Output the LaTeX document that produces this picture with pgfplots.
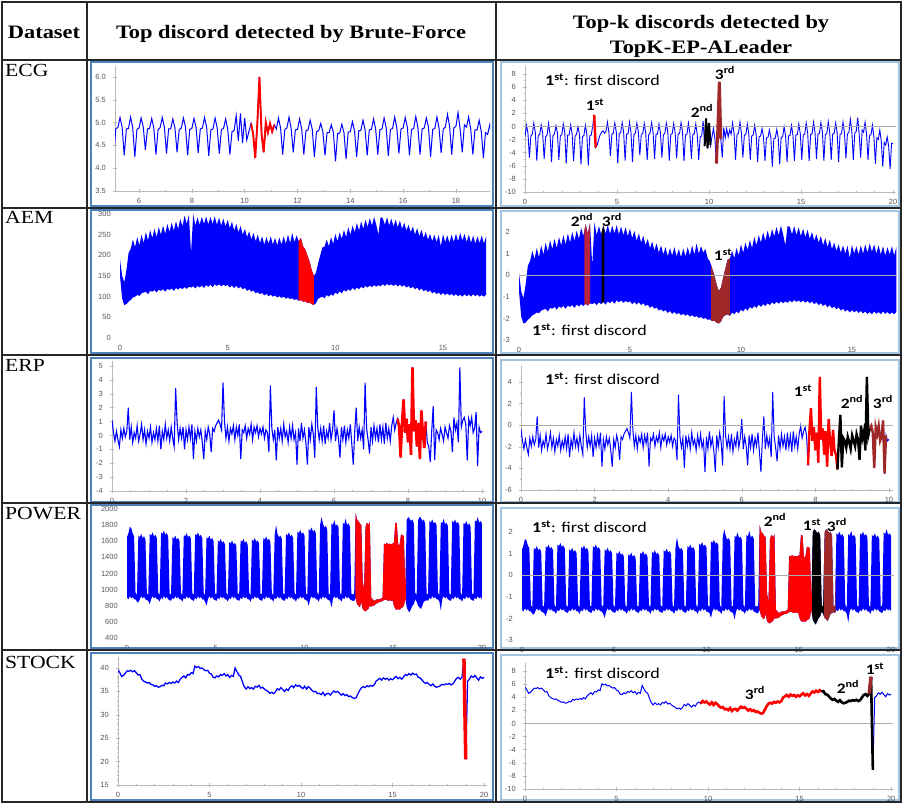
\documentclass[border=0pt]{standalone}
\usepackage{fontspec}
\setmainfont{Liberation Serif}
\setsansfont{Liberation Sans}
\newfontfamily\calib{Carlito}
\usepackage{graphicx}
\usepackage{pgfplots}
\pgfplotsset{compat=1.18}
\usepackage{pgfplotstable}
\usepgfplotslibrary{fillbetween}
\tikzset{fill between/on layer=main}

\definecolor{sigblue}{RGB}{0,0,255}
\definecolor{frameA}{RGB}{79,129,189}
\definecolor{frameB}{RGB}{160,196,225}
\definecolor{disbrown}{RGB}{160,40,40}
\definecolor{disrose}{RGB}{185,35,60}
\definecolor{tickgray}{RGB}{85,85,85}

\newcommand\tickfont{\fontsize{7.5}{8}\selectfont\sffamily}
\newcommand\hdr[1]{{\fontsize{19}{22}\selectfont\bfseries\scalebox{1.18}[1]{#1}}}
\newcommand\rowlab[1]{{\fontsize{18.5}{20}\selectfont\scalebox{1.17}[1]{#1}}}
\newcommand\firstd{{\calib\fontsize{15}{17}\selectfont\scalebox{1.2}[1]{\textbf{1\textsuperscript{st}}: first discord}}}
\newcommand\ordl[2]{{\calib\fontsize{14.5}{16}\selectfont\bfseries\scalebox{1.2}[1]{#1\textsuperscript{#2}}}}

\pgfplotsset{
 sig/.style={
  scale only axis, anchor=south west, axis lines=left,
  axis line style={-, draw=gray!55, line width=0.6pt},
  tick style={draw=gray!55, line width=0.5pt},
  major tick length=3.5pt, minor tick length=2pt, tick align=center,
  ticklabel style={font=\tickfont, text=tickgray},
  xticklabel style={yshift=-2pt},
  yticklabel style={xshift=-4pt},
  /pgf/number format/assume math mode=true,
  /pgf/number format/1000 sep={},
  clip=true,
 },
 zl/.style={gray!65, line width=0.5pt, forget plot},
}

% ---------------- ECG (one value every 0.08) ----------------
\pgfplotstableread[row sep=\\]{y\\
4.80\\5.05\\4.88\\4.35\\4.82\\
4.86\\5.10\\4.90\\4.28\\4.84\\
4.85\\5.06\\4.88\\4.32\\4.80\\
4.84\\5.09\\4.86\\4.25\\4.83\\
4.86\\5.04\\4.89\\4.30\\4.82\\
4.85\\5.08\\4.90\\4.22\\4.84\\
4.84\\5.06\\4.87\\4.27\\4.81\\
4.86\\5.02\\4.85\\4.20\\4.80\\
4.83\\5.05\\4.86\\4.18\\4.82\\
4.84\\5.04\\5.28\\4.57\\4.62\\
4.74\\4.84\\4.90\\4.93\\4.88\\
4.92\\5.12\\4.90\\4.38\\4.86\\
4.88\\5.10\\4.91\\4.22\\4.87\\
4.89\\5.11\\4.90\\4.28\\4.86\\
4.87\\5.12\\4.89\\4.25\\4.85\\
4.88\\5.10\\4.90\\4.40\\4.86\\
4.87\\5.09\\4.88\\4.30\\4.84\\
4.89\\5.11\\4.90\\4.32\\4.86\\
4.86\\5.08\\4.88\\4.35\\4.84\\
4.88\\5.10\\4.90\\4.28\\4.85\\
4.87\\5.09\\4.89\\4.33\\4.86\\
4.88\\5.11\\4.90\\4.27\\4.84\\
4.86\\5.10\\4.88\\4.32\\4.85\\
4.87\\5.08\\4.85\\4.30\\4.80\\
4.82\\5.15\\4.60\\5.20\\4.55\\
5.10\\4.62\\4.80\\4.98\\4.76\\
4.22\\4.98\\6.00\\4.75\\4.35\\
5.00\\4.78\\4.98\\4.80\\4.95\\
4.86\\5.10\\4.88\\4.30\\4.85\\
4.88\\5.12\\4.87\\4.35\\4.84\\
4.85\\5.08\\4.86\\4.30\\4.82\\
4.84\\5.05\\4.85\\4.25\\4.80\\
4.82\\4.98\\4.80\\4.28\\4.78\\
4.78\\4.95\\4.78\\4.15\\4.76\\
4.77\\4.96\\4.78\\4.20\\4.79\\
4.80\\5.02\\4.82\\4.25\\4.82\\
4.83\\5.05\\4.84\\4.28\\4.84\\
4.85\\5.08\\4.86\\4.30\\4.84\\
4.86\\5.10\\4.88\\4.27\\4.85\\
4.87\\5.12\\4.89\\4.32\\4.86\\
4.88\\5.11\\4.90\\4.28\\4.85\\
4.87\\5.13\\4.89\\4.30\\4.86\\
4.88\\5.10\\4.90\\4.25\\4.85\\
4.87\\5.12\\4.88\\4.33\\4.86\\
4.90\\5.18\\4.92\\4.30\\4.88\\
4.92\\5.22\\4.85\\4.35\\4.95\\
4.90\\5.12\\4.86\\4.30\\4.84\\
4.84\\5.05\\4.80\\4.22\\4.78\\
4.74\\4.95\\4.70\\4.15\\4.68\\
4.62\\4.80\\4.60\\4.10\\4.66\\
4.65\\
}\ecg

% ---------------- AEM (band, one row every 0.1) ----------------
\pgfplotstableread[row sep=\\]{lo hi\\
150 190\\95 150\\80 135\\82 165\\88 206\\92 216\\98 238\\100 220\\104 244\\102 224\\
108 250\\110 230\\112 256\\106 236\\114 261\\112 242\\116 264\\110 244\\117 268\\114 250\\
118 272\\112 252\\119 276\\116 256\\120 279\\114 260\\121 282\\117 264\\122 288\\118 270\\
123 296\\119 276\\124 298\\122 205\\125 300\\120 272\\126 292\\122 274\\127 293\\121 276\\
128 294\\124 275\\129 293\\123 276\\130 294\\126 274\\130 291\\125 272\\129 289\\126 270\\
128 286\\122 266\\127 281\\121 260\\126 276\\120 256\\124 271\\118 250\\121 264\\114 244\\
118 258\\112 239\\115 254\\108 234\\111 250\\106 230\\109 246\\103 226\\107 244\\101 228\\
105 246\\100 226\\103 242\\98 224\\101 243\\97 226\\100 246\\95 228\\98 250\\94 230\\
96 254\\92 232\\94 248\\90 234\\92 242\\88 222\\89 215\\85 200\\86 185\\82 165\\
80 150\\84 158\\95 180\\98 200\\100 219\\96 221\\104 238\\100 222\\106 244\\102 228\\
110 252\\106 234\\113 256\\108 240\\116 261\\112 244\\118 268\\114 250\\121 272\\116 256\\
122 278\\118 260\\124 282\\120 264\\126 286\\122 269\\127 290\\123 272\\128 293\\124 274\\
128 250\\125 292\\130 290\\126 274\\131 292\\127 272\\130 289\\126 270\\130 286\\125 268\\
129 284\\124 264\\128 279\\122 260\\126 274\\120 256\\124 270\\118 250\\122 266\\115 246\\
120 262\\113 242\\117 256\\111 238\\115 252\\108 234\\112 250\\106 232\\110 249\\104 222\\
109 251\\104 232\\108 248\\103 230\\107 250\\102 232\\106 252\\101 234\\105 254\\100 236\\
106 252\\101 232\\105 250\\100 230\\106 248\\101 228\\105 246\\100 230\\104 248\\100 228\\
105 246\\
}\aem

% ---------------- ERP (one value every 0.04) ----------------
\pgfplotstableread[row sep=\\]{y\\
1.1\\0.2\\-0.4\\0.3\\-0.3\\-0.8\\0.4\\-0.2\\0.5\\-0.1\\
0.3\\2.0\\-0.3\\0.6\\-0.5\\0.2\\-0.2\\0.7\\-0.4\\0.1\\
0.8\\-0.3\\0.4\\-0.6\\0.3\\-0.2\\0.6\\-0.5\\0.2\\-0.3\\
0.5\\-0.4\\0.7\\-1.0\\0.3\\-0.3\\0.8\\-0.2\\0.4\\-0.4\\
0.6\\-0.2\\-0.8\\3.4\\0.9\\-0.3\\0.5\\-0.2\\0.6\\-1.0\\
0.4\\-0.3\\0.6\\-0.2\\0.8\\-1.7\\0.3\\-0.4\\0.5\\-0.1\\
0.4\\-0.5\\-1.7\\0.3\\-0.3\\0.6\\0.1\\-1.2\\0.5\\0.3\\
0.7\\0.9\\1.1\\0.8\\0.4\\3.8\\1.0\\-0.2\\0.6\\-0.4\\
0.5\\0.1\\0.7\\-0.3\\0.6\\0.0\\0.8\\-1.7\\0.4\\0.2\\
0.7\\-0.2\\0.5\\0.1\\0.8\\-0.3\\0.6\\0.2\\0.7\\-0.1\\
0.5\\0.1\\0.6\\-0.2\\0.4\\0.2\\-1.2\\3.6\\0.5\\-0.3\\
0.4\\-1.8\\0.6\\-0.2\\0.5\\-0.4\\0.8\\-0.1\\0.3\\-0.5\\
0.6\\-0.2\\0.7\\-0.3\\0.2\\-2.1\\0.5\\-0.4\\0.9\\-0.2\\
0.4\\-0.5\\-2.1\\0.6\\-0.3\\0.8\\0.1\\-1.6\\3.5\\0.6\\
-0.3\\0.5\\-0.4\\0.7\\-0.6\\0.3\\-0.2\\0.9\\-0.3\\0.4\\
1.8\\-0.4\\0.5\\-0.2\\-1.6\\0.6\\-0.3\\0.7\\-0.5\\0.4\\
-0.2\\0.8\\-0.6\\-2.1\\0.3\\2.0\\-0.4\\0.6\\-0.2\\0.4\\
-1.0\\3.8\\0.5\\-0.3\\-1.3\\0.6\\-0.4\\0.7\\-0.2\\0.5\\
-0.5\\0.8\\-0.3\\0.6\\-0.6\\0.9\\-0.2\\0.5\\-0.4\\0.7\\
1.3\\0.4\\0.9\\1.2\\0.6\\-1.6\\1.0\\2.6\\0.2\\1.2\\
-0.5\\0.8\\-1.4\\4.9\\0.3\\1.1\\-0.8\\0.9\\-1.7\\1.8\\
0.2\\-0.9\\1.0\\-0.5\\-0.8\\-1.9\\0.3\\2.1\\-1.75\\0.4\\
0.2\\-0.3\\0.5\\0.1\\-0.4\\0.6\\0.2\\-0.2\\0.7\\0.3\\
-1.2\\1.3\\0.4\\0.9\\-0.5\\4.9\\0.6\\1.1\\1.3\\0.8\\
-1.8\\1.2\\0.7\\1.3\\0.2\\0.5\\1.7\\-2.2\\0.6\\0.2\\
0.3\\
}\erp

% ---------------- POWER (band, one row every 0.08) ----------------
\pgfplotstableread[row sep=\\]{lo hi\\
900 1650\\880 1700\\920 1780\\890 1760\\910 1700\\880 1660\\880 960\\850 930\\
840 1670\\880 1650\\920 1690\\890 1640\\910 1660\\880 1620\\870 950\\860 940\\
820 1690\\880 1670\\920 1710\\890 1660\\910 1680\\880 1640\\880 960\\850 930\\
900 1710\\880 1690\\920 1730\\890 1680\\910 1700\\880 1660\\870 950\\860 940\\
900 1650\\880 1630\\920 1670\\890 1620\\910 1640\\880 1600\\880 960\\850 930\\
900 1680\\880 1660\\920 1700\\890 1650\\910 1670\\880 1630\\870 950\\860 940\\
900 1690\\880 1670\\920 1710\\890 1660\\910 1680\\880 1640\\880 960\\850 930\\
800 1650\\880 1630\\920 1670\\890 1620\\910 1640\\880 1600\\870 950\\860 940\\
900 1610\\880 1590\\920 1630\\890 1580\\910 1600\\880 1560\\880 960\\850 930\\
900 1590\\880 1570\\920 1610\\890 1560\\910 1580\\880 1540\\870 950\\860 940\\
900 1610\\880 1590\\920 1630\\890 1580\\910 1600\\880 1560\\880 960\\850 930\\
900 1620\\880 1600\\920 1640\\890 1590\\910 1610\\880 1570\\870 950\\860 940\\
900 1640\\880 1620\\920 1660\\890 1610\\910 1630\\880 1590\\880 960\\850 930\\
900 1680\\880 1800\\920 1690\\890 1650\\910 1670\\880 1630\\870 950\\860 940\\
900 1690\\880 1670\\920 1710\\890 1660\\910 1680\\880 1640\\880 960\\850 930\\
900 1720\\880 1700\\920 1740\\890 1690\\910 1710\\880 1670\\870 950\\860 940\\
800 1750\\880 1730\\920 1770\\890 1720\\910 1740\\880 1700\\880 960\\850 930\\
900 1800\\880 1900\\920 1820\\890 1770\\910 1790\\880 1750\\870 950\\860 940\\
780 1820\\880 1800\\920 1860\\890 1790\\910 1810\\880 1770\\880 960\\850 930\\
900 1830\\880 1810\\920 1880\\890 1800\\910 1820\\880 1780\\870 950\\860 940\\
860 950\\
900 1950\\820 1870\\800 1850\\780 1820\\850 1800\\760 1100\\740 1000\\730 1780\\750 1830\\760 1800\\
800 1840\\790 900\\800 880\\800 860\\820 870\\830 880\\840 880\\850 880\\850 890\\860 900\\
870 1570\\880 1560\\870 1580\\860 1560\\870 1570\\860 1560\\870 1570\\800 1580\\760 1830\\750 1820\\
760 1550\\750 1560\\770 1680\\780 1680\\800 1660\\900 1000\\
780 1860\\740 1900\\720 1880\\760 1850\\800 1870\\820 1820\\880 960\\850 930\\
800 1860\\780 1900\\760 1890\\800 1850\\850 1870\\860 1820\\870 950\\860 940\\
900 1850\\880 1830\\920 1870\\890 1820\\910 1840\\880 1800\\880 960\\850 930\\
740 1840\\880 1820\\920 1880\\890 1810\\910 1830\\880 1790\\870 950\\860 940\\
900 1850\\880 1830\\920 1870\\890 1820\\910 1840\\880 1800\\880 960\\850 930\\
900 1830\\880 1810\\920 1850\\890 1800\\910 1820\\880 1780\\870 950\\860 940\\
900 1860\\880 1840\\920 1900\\890 1830\\910 1850\\880 1820\\
}\power

% ---------------- STOCK (one value every 0.1) ----------------
\pgfplotstableread[row sep=\\]{y\\
39.6\\39.0\\38.2\\38.4\\38.9\\39.4\\39.3\\39.5\\39.2\\39.4\\
39.0\\38.5\\38.6\\37.6\\37.2\\37.0\\36.8\\36.9\\36.5\\36.4\\
36.1\\36.2\\35.9\\36.0\\36.3\\36.2\\36.8\\36.6\\36.9\\36.7\\
37.0\\36.8\\37.2\\36.9\\37.6\\38.0\\38.3\\37.9\\38.6\\38.5\\
39.0\\38.8\\40.4\\40.1\\40.3\\39.9\\40.0\\39.6\\39.4\\39.5\\
38.9\\38.7\\38.0\\37.9\\38.3\\38.1\\38.6\\38.4\\38.8\\38.3\\
38.6\\38.0\\38.4\\38.2\\40.0\\39.2\\38.5\\38.2\\37.0\\36.0\\
35.5\\36.0\\35.6\\35.8\\35.5\\36.1\\35.9\\36.3\\35.7\\35.9\\
35.5\\35.2\\35.0\\34.6\\34.8\\34.5\\34.9\\35.6\\35.3\\35.8\\
35.4\\35.0\\35.5\\35.2\\35.9\\36.2\\35.8\\36.4\\36.1\\36.3\\
35.9\\35.6\\36.1\\35.5\\36.0\\35.7\\35.2\\34.9\\35.0\\34.5\\
34.6\\34.3\\34.8\\34.1\\34.5\\34.6\\34.2\\34.7\\35.1\\34.8\\
35.0\\34.6\\34.2\\34.5\\34.1\\34.3\\33.9\\34.0\\33.7\\33.5\\
33.6\\34.4\\35.2\\35.8\\36.0\\35.8\\36.2\\36.0\\36.3\\36.1\\
36.4\\37.2\\37.5\\37.8\\37.4\\37.9\\37.6\\37.8\\37.4\\37.7\\
37.5\\37.9\\38.2\\37.7\\38.0\\37.6\\38.1\\38.6\\38.4\\38.8\\
38.5\\38.9\\38.6\\38.7\\38.0\\37.9\\37.5\\37.0\\36.7\\36.9\\
36.5\\36.2\\36.6\\36.1\\35.9\\36.0\\36.2\\36.5\\36.4\\36.6\\
36.5\\36.7\\36.4\\36.6\\37.2\\37.8\\38.0\\37.6\\38.1\\42.0\\
20.5\\37.2\\37.6\\38.3\\38.0\\38.4\\37.9\\37.4\\38.1\\37.8\\
38.0\\
}\stock

\begin{document}
\begin{tikzpicture}[x=1pt,y=1pt]
\fill[white] (0,0) rectangle (903,804);

% cell frames
\draw[frameA, line width=1.5pt] (91,742) rectangle (493,598);
\draw[frameA, line width=1.5pt] (91,594) rectangle (493,451);
\draw[frameA, line width=1.5pt] (91,446) rectangle (493,302);
\draw[frameA, line width=1.5pt] (91,299) rectangle (493,156);
\draw[frameA, line width=1.5pt] (91,151) rectangle (493,4);
\draw[frameB, line width=1.2pt] (501,742) rectangle (899,598);
\draw[frameB, line width=1.2pt] (501,593) rectangle (899,451);
\draw[frameB, line width=1.2pt] (501,444) rectangle (899,302);
\draw[frameB, line width=1.2pt] (501,296) rectangle (899,156);
\draw[frameB, line width=1.2pt] (501,149) rectangle (899,4);

% ===== ECG =====
\begin{axis}[sig, at={(115pt,613pt)}, width=375pt, height=125pt,
  xmin=5.09, xmax=19.29, ymin=3.5, ymax=6.24,
  xtick={6,8,10,12,14,16,18}, ytick={3.5,4,4.5,5,5.5,6}, minor x tick num=1,
  yticklabel style={/pgf/number format/.cd, fixed, fixed zerofill, precision=1}]
\addplot[sigblue, line width=1pt] table[x expr=\coordindex*0.08, y index=0] {\ecg};
\addplot[red, line width=1.9pt, restrict x to domain=10.2:11.15] table[x expr=\coordindex*0.08, y index=0] {\ecg};
\end{axis}

\begin{axis}[sig, at={(525pt,612pt)}, width=371pt, height=126pt,
  xmin=0, xmax=20.16, ymin=-10, ymax=9.22,
  xtick={0,5,10,15,20}, ytick={-10,-8,-6,-4,-2,0,2,4,6,8}, minor x tick num=4, minor y tick num=1]
\addplot[sigblue, line width=0.9pt] table[x expr=\coordindex*0.08, y index=0, y expr=7*\thisrowno{0}-35.19] {\ecg};
\addplot[zl] coordinates {(0,0) (20.16,0)};
\addplot[red, line width=2.5pt, restrict x to domain=3.72:3.88] table[x expr=\coordindex*0.08, y index=0, y expr=7*\thisrowno{0}-35.19] {\ecg};
\addplot[black, line width=2pt, restrict x to domain=9.75:10.1] table[x expr=\coordindex*0.08, y index=0, y expr=7*\thisrowno{0}-35.19] {\ecg};
\addplot[disbrown, line width=3pt, restrict x to domain=10.35:10.65] table[x expr=\coordindex*0.08, y index=0, y expr=7*\thisrowno{0}-35.19] {\ecg};
\end{axis}

% ===== AEM =====
\begin{axis}[sig, at={(120pt,466pt)}, width=368pt, height=126pt,
  xmin=0, xmax=17.09, ymin=0, ymax=304.8,
  xtick={0,5,10,15}, ytick={0,50,100,150,200,250,300}, minor x tick num=4, minor y tick num=1]
\addplot[draw=none, forget plot, name path=aAlo] table[x expr=\coordindex*0.1, y=lo] {\aem};
\addplot[draw=none, forget plot, name path=aAhi] table[x expr=\coordindex*0.1, y=hi] {\aem};
\addplot[sigblue] fill between[of=aAhi and aAlo];
\addplot[red] fill between[of=aAhi and aAlo, soft clip={domain=8.3:9.0}];
\end{axis}

\begin{axis}[sig, at={(519pt,464pt)}, width=378pt, height=127pt,
  xmin=0, xmax=17.03, ymin=-3, ymax=2.88,
  xtick={0,5,10,15}, ytick={-3,-2,-1,0,1,2}, minor x tick num=4, minor y tick num=1]
\addplot[draw=none, forget plot, name path=aBlo] table[x expr=\coordindex*0.1, y=lo, y expr=(\thisrow{lo}-185)/47] {\aem};
\addplot[draw=none, forget plot, name path=aBhi] table[x expr=\coordindex*0.1, y=hi, y expr=(\thisrow{hi}-185)/47] {\aem};
\addplot[sigblue] fill between[of=aBhi and aBlo];
\addplot[disrose] fill between[of=aBhi and aBlo, soft clip={domain=2.95:3.2}];
\addplot[black] fill between[of=aBhi and aBlo, soft clip={domain=3.72:3.85}];
\addplot[disbrown] fill between[of=aBhi and aBlo, soft clip={domain=8.65:9.5}];
\addplot[zl] coordinates {(0,0) (17.03,0)};
\end{axis}

% ===== ERP =====
\begin{axis}[sig, at={(112pt,313pt)}, width=373pt, height=130pt,
  xmin=0, xmax=10.08, ymin=-4, ymax=5.36,
  xtick={0,2,4,6,8,10}, ytick={-4,-3,-2,-1,0,1,2,3,4,5}, minor x tick num=3]
\addplot[sigblue, line width=1.1pt] table[x expr=\coordindex*0.04, y index=0] {\erp};
\addplot[red, line width=2.6pt, restrict x to domain=7.7:8.5] table[x expr=\coordindex*0.04, y index=0] {\erp};
\end{axis}

\begin{axis}[sig, at={(521pt,314pt)}, width=372pt, height=124pt,
  xmin=0, xmax=10.11, ymin=-6, ymax=5.48,
  xtick={0,2,4,6,8,10}, ytick={-6,-4,-2,0,2,4}, minor x tick num=3, minor y tick num=1]
\addplot[sigblue, line width=1pt] table[x expr=\coordindex*0.04, y index=0, y expr=1.26*\thisrowno{0}-1.7] {\erp};
\addplot[zl] coordinates {(0,0) (10.11,0)};
\addplot[red, line width=2.4pt, restrict x to domain=7.78:8.62] table[x expr=\coordindex*0.04, y index=0, y expr=1.26*\thisrowno{0}-1.7] {\erp};
\addplot[black, line width=2.4pt, restrict x to domain=8.58:9.5] table[x expr=\coordindex*0.04, y index=0, y expr=1.26*\thisrowno{0}-1.7] {\erp};
\addplot[disbrown, line width=2.4pt, restrict x to domain=9.46:9.93] table[x expr=\coordindex*0.04, y index=0, y expr=1.26*\thisrowno{0}-1.7] {\erp};
\end{axis}

% ===== POWER =====
\begin{axis}[sig, at={(127pt,166pt)}, width=358pt, height=130pt,
  xmin=0, xmax=20.17, ymin=400, ymax=2012,
  xtick={0,5,10,15,20}, ytick={400,600,800,1000,1200,1400,1600,1800,2000}, minor x tick num=4, minor y tick num=1]
\addplot[draw=none, forget plot, name path=pAlo] table[x expr=\coordindex*0.08, y=lo] {\power};
\addplot[draw=none, forget plot, name path=pAhi] table[x expr=\coordindex*0.08, y=hi] {\power};
\addplot[sigblue] fill between[of=pAhi and pAlo];
\addplot[red] fill between[of=pAhi and pAlo, soft clip={domain=12.86:15.72}];
\end{axis}

\begin{axis}[sig, at={(522pt,164pt)}, width=372pt, height=128pt,
  xmin=0, xmax=20.16, ymin=-3, ymax=2.93,
  xtick={0,5,10,15,20}, ytick={-3,-2,-1,0,1,2}, minor x tick num=4, minor y tick num=1]
\addplot[draw=none, forget plot, name path=pBlo] table[x expr=\coordindex*0.08, y=lo, y expr=(\thisrow{lo}-1329)/268] {\power};
\addplot[draw=none, forget plot, name path=pBhi] table[x expr=\coordindex*0.08, y=hi, y expr=(\thisrow{hi}-1329)/268] {\power};
\addplot[sigblue] fill between[of=pBhi and pBlo];
\addplot[red] fill between[of=pBhi and pBlo, soft clip={domain=12.86:15.72}];
\addplot[black] fill between[of=pBhi and pBlo, soft clip={domain=15.72:16.36}];
\addplot[disbrown] fill between[of=pBhi and pBlo, soft clip={domain=16.36:17.0}];
\addplot[zl] coordinates {(0,0) (20.16,0)};
\end{axis}

% ===== STOCK =====
\begin{axis}[sig, at={(118pt,19pt)}, width=369pt, height=128pt,
  xmin=0, xmax=20.16, ymin=15, ymax=42.35,
  xtick={0,5,10,15,20}, ytick={15,20,25,30,35,40}, minor x tick num=4, minor y tick num=4]
\addplot[sigblue, line width=1.3pt] table[x expr=\coordindex*0.1, y index=0] {\stock};
\addplot[red, line width=3.5pt, restrict x to domain=18.85:19.05] table[x expr=\coordindex*0.1, y index=0] {\stock};
\end{axis}

\begin{axis}[sig, at={(525pt,15pt)}, width=368pt, height=126pt,
  xmin=0, xmax=20.1, ymin=-10, ymax=9.22,
  xtick={0,5,10,15,20}, ytick={-10,-8,-6,-4,-2,0,2,4,6,8}, minor x tick num=4, minor y tick num=1]
\addplot[zl] coordinates {(0,0) (20.1,0)};
\addplot[sigblue, line width=1pt] table[x expr=\coordindex*0.1, y index=0, y expr=0.66*\thisrowno{0}-20.61] {\stock};
\addplot[red, line width=2.6pt, restrict x to domain=9.55:16.25] table[x expr=\coordindex*0.1, y index=0, y expr=0.66*\thisrowno{0}-20.61] {\stock};
\addplot[black, line width=2.6pt, restrict x to domain=16.15:19.05] table[x expr=\coordindex*0.1, y index=0, y expr=0.66*\thisrowno{0}-20.61] {\stock};
\addplot[disbrown, line width=3.5pt, restrict x to domain=18.75:18.95] table[x expr=\coordindex*0.1, y index=0, y expr=0.66*\thisrowno{0}-20.61] {\stock};
\end{axis}

% ===== annotations =====
\node[anchor=west, inner sep=0] at (545,724) {\firstd};
\node at (595,699) {\ordl{1}{st}};
\node at (702,693) {\ordl{2}{nd}};
\node at (725,731) {\ordl{3}{rd}};

\node at (582,584) {\ordl{2}{nd}};
\node at (612,584) {\ordl{3}{rd}};
\node at (723,549) {\ordl{1}{st}};
\node[anchor=west, inner sep=0] at (532,474) {\firstd};

\node[anchor=west, inner sep=0] at (545,425) {\firstd};
\node at (803,413) {\ordl{1}{st}};
\node at (852,402) {\ordl{2}{nd}};
\node at (883,402) {\ordl{3}{rd}};

\node[anchor=west, inner sep=0] at (532,277) {\firstd};
\node at (775,284) {\ordl{2}{nd}};
\node at (812,279) {\ordl{1}{st}};
\node at (837,279) {\ordl{3}{rd}};

\node[anchor=west, inner sep=0] at (545,131) {\firstd};
\node at (755,111) {\ordl{3}{rd}};
\node at (848,117) {\ordl{2}{nd}};
\node at (875,135) {\ordl{1}{st}};

% ===== header and row labels =====
\node[anchor=base] at (44,765) {\hdr{Dataset}};
\node[anchor=base] at (291,765) {\hdr{Top discord detected by Brute-Force}};
\node[anchor=base] at (701,775) {\hdr{Top-k discords detected by}};
\node[anchor=base] at (701,750) {\hdr{TopK-EP-ALeader}};

\node[anchor=base west, inner sep=0] at (5,727) {\rowlab{ECG}};
\node[anchor=base west, inner sep=0] at (5,580) {\rowlab{AEM}};
\node[anchor=base west, inner sep=0] at (5,432) {\rowlab{ERP}};
\node[anchor=base west, inner sep=0] at (5,284) {\rowlab{POWER}};
\node[anchor=base west, inner sep=0] at (5,135) {\rowlab{STOCK}};

% ===== table rules =====
\draw[black!85, line width=1.4pt] (2,2) rectangle (901,802);
\draw[black!85, line width=2pt] (2,744) -- (901,744);
\draw[black!85, line width=1.3pt] (2,596) -- (901,596);
\draw[black!85, line width=1.3pt] (2,449) -- (901,449);
\draw[black!85, line width=1.3pt] (2,301) -- (901,301);
\draw[black!85, line width=1.3pt] (2,154) -- (901,154);
\draw[black!85, line width=1.3pt] (87,2) -- (87,802);
\draw[black!85, line width=1.3pt] (496,2) -- (496,802);

\pgfresetboundingbox
\path[use as bounding box] (0,0) rectangle (903,804);
\end{tikzpicture}
\end{document}
